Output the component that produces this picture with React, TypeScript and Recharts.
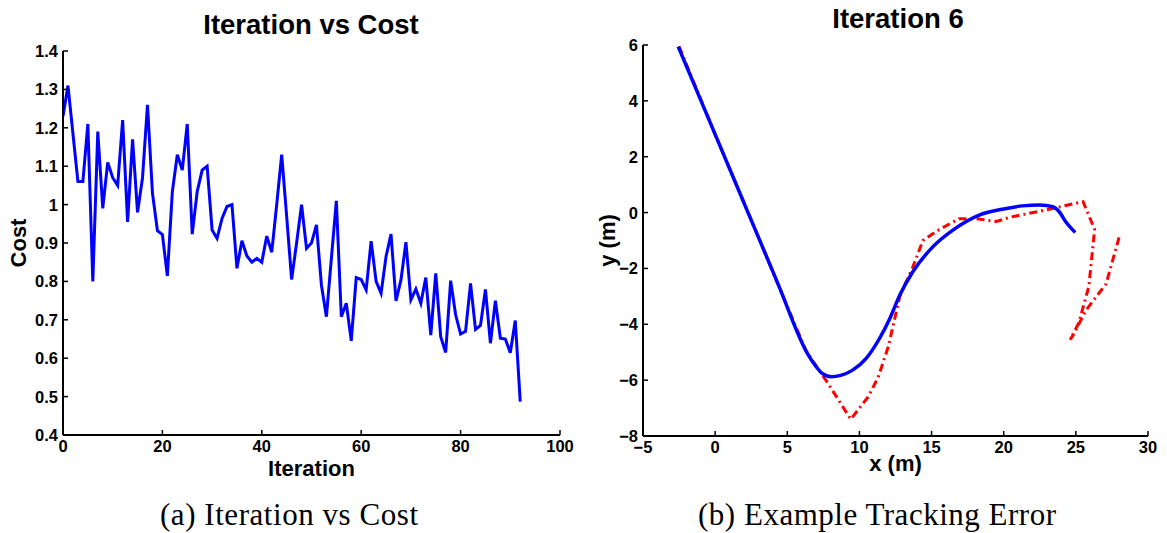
import React from 'react';
import { LineChart, Line, XAxis, YAxis, Label } from 'recharts';

// ---- Left chart: Iteration vs Cost ----
const costValues: number[] = [
  1.23, 1.31, 1.185, 1.06, 1.06, 1.21, 0.80, 1.19, 0.99, 1.11,
  1.07, 1.05, 1.22, 0.955, 1.17, 0.98, 1.07, 1.26, 1.03, 0.932,
  0.922, 0.814, 1.034, 1.13, 1.09, 1.21, 0.923, 1.034, 1.09, 1.10,
  0.934, 0.912, 0.964, 0.995, 1.0, 0.834, 0.906, 0.866, 0.85, 0.86,
  0.85, 0.918, 0.876, 1.0, 1.13, 0.97, 0.805, 0.90, 1.0, 0.886,
  0.90, 0.947, 0.79, 0.708, 0.86, 1.01, 0.708, 0.743, 0.645, 0.81,
  0.805, 0.778, 0.905, 0.80, 0.769, 0.865, 0.923, 0.749, 0.804, 0.902,
  0.752, 0.78, 0.743, 0.81, 0.66, 0.821, 0.656, 0.615, 0.802, 0.713,
  0.663, 0.67, 0.795, 0.675, 0.685, 0.779, 0.639, 0.75, 0.652, 0.65,
  0.614, 0.698, 0.487,
];
const iterationTicks: number[] = [0, 20, 40, 60, 80, 100];
const costTicks: number[] = [0.4, 0.5, 0.6, 0.7, 0.8, 0.9, 1, 1.1, 1.2, 1.3, 1.4];

// ---- Right chart: Iteration 6 tracking ----
const actualX: number[] = [-2.56, 0, 2.28, 4.3, 6.4, 6.9, 7.4, 8.05, 8.7, 9.5, 10.5, 11.4, 12.1, 12.8, 13.7, 15.1, 16.5, 18.3, 19.9, 21.3, 22.5, 23.4, 23.85, 24.3, 24.95];
const actualY: number[] = [5.94, 2.8, 0, -2.48, -5.05, -5.45, -5.75, -5.88, -5.83, -5.65, -5.2, -4.5, -3.8, -2.95, -2.12, -1.22, -0.62, -0.09, 0.12, 0.24, 0.27, 0.21, 0.03, -0.33, -0.71];
const refX: number[] = [-2.5, 0, 2.3, 4.3, 6.3, 7.8, 9.4, 10.6, 11.3, 12.0, 12.8, 13.7, 14.4, 15.5, 16.9, 18.1, 19.5, 20.4, 22.9, 25.5, 26.3, 25.9, 25.2, 24.6, 24.8, 25.7, 27.1, 28.0];
const refY: number[] = [5.95, 2.8, -0.02, -2.5, -4.95, -6.1, -7.4, -6.6, -5.9, -4.8, -3.0, -1.95, -1.0, -0.62, -0.22, -0.22, -0.32, -0.17, 0.09, 0.39, -0.6, -2.65, -3.95, -4.55, -4.4, -3.5, -2.55, -0.88];
const xTicksM: number[] = [-5, 0, 5, 10, 15, 20, 25, 30];
const yTicksM: number[] = [-8, -6, -4, -2, 0, 2, 4, 6];

const costData = costValues.map((c, i) => ({ iteration: i, cost: c }));
const actualData = actualX.map((x, i) => ({ x, y: actualY[i] }));
const refData = refX.map((x, i) => ({ x, y: refY[i] }));

const SANS = '"Liberation Sans", Arial, Helvetica, sans-serif';
const SERIF = '"Liberation Serif", "Times New Roman", serif';
const TICK_MARGIN = 5;
const TICK_LEN = 5;

const fmtNum = (v: number) => {
  const r = Math.round(v * 10) / 10;
  return r < 0 ? '\u2212' + String(Math.abs(r)) : String(r);
};

const YTick = (props: any) => {
  const { x, y, payload } = props;
  const ax = x + TICK_MARGIN;
  return (
    <g>
      <line x1={ax} x2={ax + TICK_LEN} y1={y} y2={y} stroke="#000" strokeWidth={1.5} />
      <text x={x} y={y} dy="0.36em" textAnchor="end" fontFamily={SANS} fontWeight="bold" fontSize={16.5} fill="#000">
        {fmtNum(payload.value)}
      </text>
    </g>
  );
};

const XTick = (props: any) => {
  const { x, y, payload } = props;
  const ay = y - TICK_MARGIN;
  return (
    <g>
      <line x1={x} x2={x} y1={ay} y2={ay - TICK_LEN} stroke="#000" strokeWidth={1.5} />
      <text x={x} y={y} dy="0.74em" textAnchor="middle" fontFamily={SANS} fontWeight="bold" fontSize={16.5} fill="#000">
        {fmtNum(payload.value)}
      </text>
    </g>
  );
};

const axisLine = { stroke: '#000', strokeWidth: 2 };
const labelStyle = { fontFamily: SANS, fontWeight: 'bold', fontSize: 22, fill: '#000' } as any;

export default function App() {
  return (
    <div style={{ position: 'absolute', left: 0, top: 0, width: 1167, height: 533, background: '#fff' }}>
      <div style={{ position: 'absolute', left: 0, top: 0 }}>
        <LineChart width={600} height={533} data={costData} margin={{ top: 51, right: 40, bottom: 53, left: 13 }}>
          <XAxis
            dataKey="iteration"
            type="number"
            domain={[0, 100]}
            ticks={iterationTicks}
            interval={0}
            allowDataOverflow
            height={45}
            tickSize={0}
            tickMargin={TICK_MARGIN}
            axisLine={axisLine}
            tickLine={false}
            tick={XTick}
          >
            <Label value="Iteration" position="insideBottom" offset={4} style={labelStyle} />
          </XAxis>
          <YAxis
            type="number"
            domain={[0.4, 1.4]}
            ticks={costTicks}
            interval={0}
            allowDataOverflow
            width={50}
            tickSize={0}
            tickMargin={TICK_MARGIN}
            axisLine={axisLine}
            tickLine={false}
            tick={YTick}
          >
            <Label value="Cost" angle={-90} position="insideLeft" offset={5.5} style={{ ...labelStyle, textAnchor: 'middle' }} />
          </YAxis>
          <Line dataKey="cost" type="linear" stroke="#0000ff" strokeWidth={3} dot={false} isAnimationActive={false} />
        </LineChart>
      </div>
      <div style={{ position: 'absolute', left: 570, top: 0 }}>
        <LineChart width={597} height={533} margin={{ top: 45, right: 19, bottom: 57, left: 33 }}>
          <XAxis
            dataKey="x"
            type="number"
            domain={[-5, 30]}
            ticks={xTicksM}
            interval={0}
            allowDataOverflow
            height={40}
            tickSize={0}
            tickMargin={TICK_MARGIN}
            axisLine={axisLine}
            tickLine={false}
            tick={XTick}
          >
            <Label value="x (m)" position="insideBottom" offset={5} style={labelStyle} />
          </XAxis>
          <YAxis
            dataKey="y"
            type="number"
            domain={[-8, 6]}
            ticks={yTicksM}
            interval={0}
            allowDataOverflow
            width={40}
            tickSize={0}
            tickMargin={TICK_MARGIN}
            axisLine={axisLine}
            tickLine={false}
            tick={YTick}
          >
            <Label value="y (m)" angle={-90} position="insideLeft" offset={4} style={{ ...labelStyle, textAnchor: 'middle' }} />
          </YAxis>
          <Line data={refData} dataKey="y" type="linear" stroke="#ff0000" strokeWidth={3} strokeDasharray="8 4 2 4" dot={false} isAnimationActive={false} />
          <Line data={actualData} dataKey="y" type="monotone" stroke="#0000ff" strokeWidth={3.5} dot={false} isAnimationActive={false} />
        </LineChart>
      </div>
      <svg width={1167} height={533} style={{ position: 'absolute', left: 0, top: 0, pointerEvents: 'none' }}>
        <text x={311} y={34} textAnchor="middle" fontFamily={SANS} fontWeight="bold" fontSize={27.5} fill="#000">Iteration vs Cost</text>
        <text x={898} y={28} textAnchor="middle" fontFamily={SANS} fontWeight="bold" fontSize={27.5} fill="#000">Iteration 6</text>
        <text x={160} y={525} textLength={258} lengthAdjust="spacing" fontFamily={SERIF} fontSize={31} fill="#000">(a) Iteration vs Cost</text>
        <text x={698} y={525} textLength={358} lengthAdjust="spacing" fontFamily={SERIF} fontSize={31} fill="#000">(b) Example Tracking Error</text>
      </svg>
    </div>
  );
}
